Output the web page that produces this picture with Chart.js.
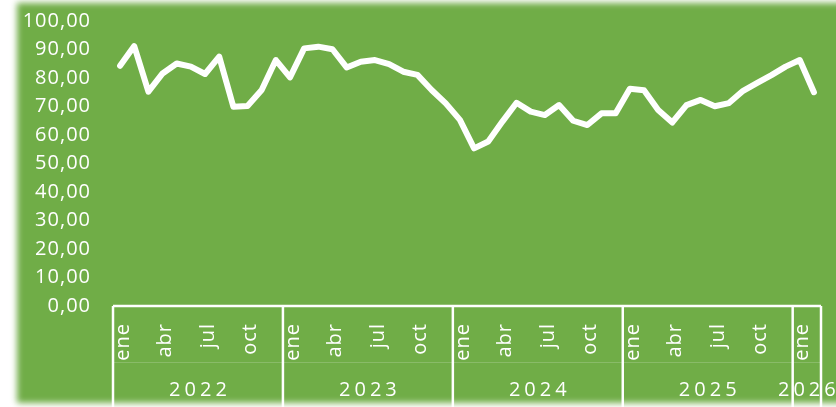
<!DOCTYPE html>
<html>
<head>
<meta charset="utf-8">
<script src="https://cdn.jsdelivr.net/npm/chart.js@4/dist/chart.umd.min.js"></script>
<style>
  html, body { margin: 0; padding: 0; background: #ffffff; width: 836px; height: 407px; overflow: hidden; }
  #bg { position: absolute; left: 17px; top: 3px; width: 840px; height: 400px; background: #70AD47; filter: blur(3px); }
  #wrap { position: absolute; left: 0; top: 0; width: 836px; height: 407px; }
</style>
</head>
<body>
<div id="bg"></div>
<div id="wrap"><canvas id="c" width="836" height="407"></canvas></div>
<script>
const years = ['2022', '2023', '2024', '2025', '2026'];
const monthNames = ['ene', 'feb', 'mar', 'abr', 'may', 'jun', 'jul', 'ago', 'sep', 'oct', 'nov', 'dic'];
const monthsPerYear = [12, 12, 12, 12, 2];
const shownMonths = ['ene', 'abr', 'jul', 'oct'];
const yTicks = [0, 10, 20, 30, 40, 50, 60, 70, 80, 90, 100];

const values2022 = [84.3, 91.2, 75.2, 81.6, 85.1, 84.0, 81.4, 87.5, 69.9, 70.2, 75.8, 86.3];
const values2023 = [80.2, 90.4, 91.0, 90.1, 83.7, 85.7, 86.3, 84.9, 82.2, 81.1, 75.8, 71.1];
const values2024 = [65.3, 55.3, 57.7, 64.7, 71.3, 68.2, 67.0, 70.5, 65.0, 63.5, 67.6, 67.6];
const values2025 = [76.2, 75.7, 68.8, 64.4, 70.5, 72.3, 70.1, 71.2, 75.5, 78.3, 81.0, 84.0];
const values2026 = [86.3, 75.0];

const labels = [];
years.forEach((y, yi) => {
  for (let m = 0; m < monthsPerYear[yi]; m++) { labels.push(monthNames[m]); }
});
const values = [].concat(values2022, values2023, values2024, values2025, values2026);

const FONT = "'Open Sans', 'Noto Sans', sans-serif";

const yearPlugin = {
  id: 'yearRow',
  beforeDraw(chart) { chart.ctx.letterSpacing = '1px'; },
  afterDraw(chart) {
    const ctx = chart.ctx;
    const xs = chart.scales.x;
    const area = chart.chartArea;
    const half = (xs.getPixelForValue(1) - xs.getPixelForValue(0)) / 2;
    const top = area.bottom;
    const bottom = chart.height;
    ctx.save();
    ctx.strokeStyle = 'rgba(255,255,255,0.18)';
    ctx.lineWidth = 1;
    ctx.beginPath();
    ctx.moveTo(xs.left, top + 56.5);
    ctx.lineTo(xs.right, top + 56.5);
    ctx.stroke();
    ctx.strokeStyle = '#ffffff';
    ctx.lineWidth = 2.5;
    ctx.beginPath();
    ctx.moveTo(xs.left, top);
    ctx.lineTo(xs.right, top);
    ctx.stroke();
    let start = 0;
    const bounds = [];
    monthsPerYear.forEach((n) => { bounds.push([start, start + n - 1]); start += n; });
    bounds.forEach(([a, b]) => {
      const x = xs.getPixelForValue(a) - half;
      ctx.beginPath(); ctx.moveTo(x, top); ctx.lineTo(x, bottom); ctx.stroke();
    });
    const lastX = xs.getPixelForValue(labels.length - 1) + half;
    ctx.beginPath(); ctx.moveTo(lastX, top); ctx.lineTo(lastX, bottom); ctx.stroke();
    ctx.fillStyle = '#ffffff';
    ctx.font = '20px ' + FONT;
    ctx.letterSpacing = '4px';
    ctx.textAlign = 'center';
    ctx.textBaseline = 'middle';
    bounds.forEach(([a, b], i) => {
      const cx = (xs.getPixelForValue(a) + xs.getPixelForValue(b)) / 2 + 2;
      ctx.fillText(years[i], cx, top + 84);
    });
    ctx.restore();
  }
};

new Chart(document.getElementById('c'), {
  type: 'line',
  data: {
    labels: labels,
    datasets: [{
      data: values,
      borderColor: '#ffffff',
      borderWidth: 6,
      pointRadius: 0,
      tension: 0,
      borderJoinStyle: 'round',
      borderCapStyle: 'round',
      fill: false
    }]
  },
  options: {
    responsive: false,
    animation: false,
    devicePixelRatio: 1,
    layout: { padding: { top: 21, right: 15, left: 0, bottom: 0 } },
    plugins: { legend: { display: false }, tooltip: { enabled: false } },
    scales: {
      x: {
        type: 'category',
        offset: true,
        grid: { display: false, drawTicks: false },
        border: { display: false },
        ticks: {
          autoSkip: false,
          minRotation: 90,
          maxRotation: 90,
          padding: 17,
          labelOffset: 3,
          color: '#ffffff',
          font: { family: FONT, size: 20 },
          callback: function (v, i) { const l = labels[i]; return shownMonths.includes(l) ? l : ''; }
        },
        afterFit: (s) => { s.height = 101; s.paddingLeft = 0; s.paddingRight = 0; }
      },
      y: {
        min: 0, max: 100,
        afterBuildTicks: (s) => { s.ticks = yTicks.map(v => ({ value: v })); },
        grid: { display: false, drawTicks: false },
        border: { display: false },
        ticks: {
          padding: 22,
          color: '#ffffff',
          font: { family: FONT, size: 20 },
          callback: (v) => v.toFixed(2).replace('.', ',')
        },
        afterFit: (s) => { s.width = 113; s.paddingTop = 0; s.paddingBottom = 0; }
      }
    }
  },
  plugins: [yearPlugin]
});
</script>
</body>
</html>
